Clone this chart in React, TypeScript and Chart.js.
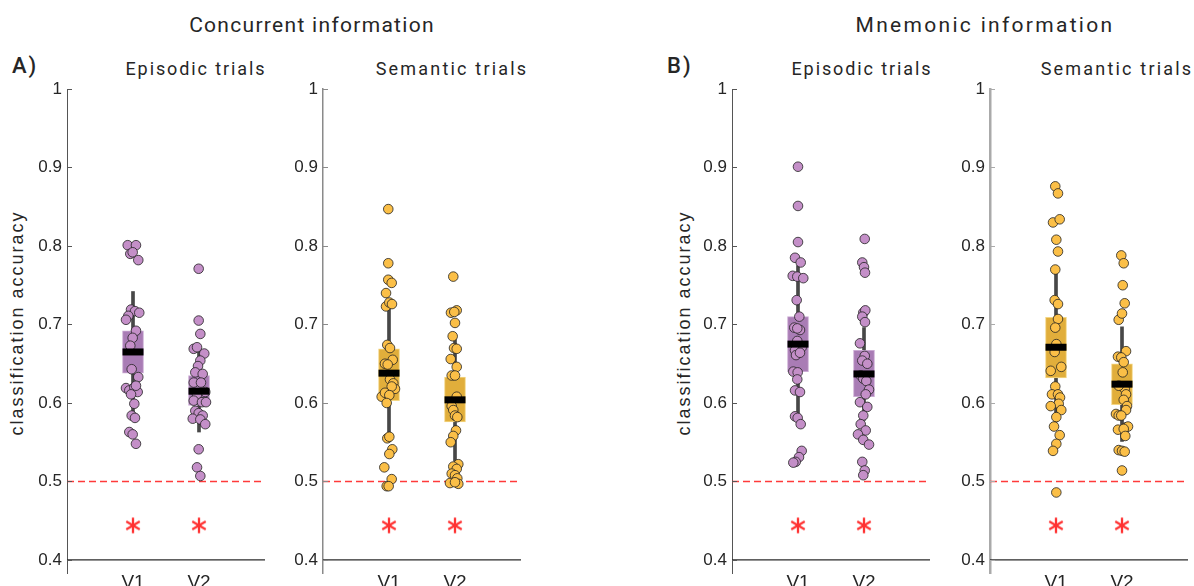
import React, { useEffect, useRef } from "react";
import { Chart, registerables } from "chart.js";

Chart.register(...registerables);

// ---------- shared axis data ----------
const categories = ["V1", "V2"];
const categoryPositions = [1, 2];
const yTicks = [0.4, 0.5, 0.6, 0.7, 0.8, 0.9, 1];
const yTickLabels = ["0.4", "0.5", "0.6", "0.7", "0.8", "0.9", "1"];
const chanceLevel = 0.5;
const axisFloor = 0.4;
const asteriskLevel = 0.444;

// ---------- A) Concurrent information, Episodic trials ----------
const conEpiV1 = [0.801, 0.801, 0.79, 0.792, 0.782, 0.719, 0.717, 0.715, 0.711, 0.706, 0.692, 0.683, 0.673, 0.643, 0.633, 0.619, 0.616, 0.62, 0.614, 0.611, 0.622, 0.599, 0.584, 0.581, 0.563, 0.56, 0.548];
const conEpiV1Jitter = [-0.08, 0.045, -0.041, -0.005, 0.08, -0.03, 0.03, 0.095, -0.071, -0.106, 0.045, -0.005, -0.041, -0.02, 0.08, -0.106, -0.056, 0.02, 0.071, -0.03, 0.045, 0.02, -0.02, 0.03, -0.056, -0.005, 0.045];
const conEpiV2 = [0.771, 0.705, 0.688, 0.669, 0.671, 0.663, 0.654, 0.647, 0.639, 0.637, 0.626, 0.626, 0.614, 0.611, 0.603, 0.601, 0.601, 0.59, 0.587, 0.584, 0.58, 0.579, 0.573, 0.541, 0.518, 0.507];
const conEpiV2Jitter = [-0.005, -0.005, 0.02, -0.08, -0.03, 0.08, 0.02, -0.015, -0.056, 0.056, -0.08, 0.03, 0.095, -0.03, -0.08, 0.045, 0.106, -0.056, -0.005, 0.056, -0.095, 0.02, 0.095, -0.005, -0.03, 0.02];
const conEpiMean = [0.665, 0.615];
const conEpiBoxLo = [0.638, 0.597];
const conEpiBoxHi = [0.692, 0.635];
const conEpiSdLo = [0.588, 0.563];
const conEpiSdHi = [0.742, 0.667];

// ---------- A) Concurrent information, Semantic trials ----------
const conSemV1 = [0.847, 0.778, 0.757, 0.753, 0.74, 0.723, 0.728, 0.726, 0.674, 0.67, 0.655, 0.65, 0.649, 0.63, 0.625, 0.618, 0.621, 0.608, 0.613, 0.61, 0.6, 0.555, 0.557, 0.541, 0.535, 0.518, 0.503, 0.494, 0.494];
const conSemV1Jitter = [-0.011, -0.011, -0.011, 0.041, -0.045, -0.045, 0.005, 0.045, -0.026, 0.015, 0.056, -0.061, -0.02, 0.015, 0.065, 0.091, 0.041, -0.111, -0.061, 0.005, -0.035, -0.026, 0.005, 0.05, 0.005, -0.071, 0.041, -0.035, -0.005];
const conSemV2 = [0.761, 0.715, 0.718, 0.716, 0.702, 0.685, 0.67, 0.669, 0.656, 0.646, 0.635, 0.635, 0.608, 0.596, 0.591, 0.584, 0.582, 0.565, 0.558, 0.55, 0.522, 0.519, 0.516, 0.51, 0.508, 0.504, 0.498, 0.497, 0.499];
const conSemV2Jitter = [-0.026, -0.061, 0.026, -0.011, 0, -0.035, -0.015, 0.026, -0.065, 0.026, -0.05, 0, 0.026, -0.05, -0.026, 0, 0.035, 0.015, -0.026, -0.065, 0.05, -0.026, 0.026, -0.05, 0, 0.035, -0.076, 0.05, 0];
const conSemMean = [0.638, 0.604];
const conSemBoxLo = [0.603, 0.576];
const conSemBoxHi = [0.669, 0.633];
const conSemSdLo = [0.556, 0.526];
const conSemSdHi = [0.72, 0.682];

// ---------- B) Mnemonic information, Episodic trials ----------
const mneEpiV1 = [0.901, 0.851, 0.805, 0.785, 0.779, 0.762, 0.761, 0.759, 0.731, 0.71, 0.696, 0.693, 0.695, 0.679, 0.671, 0.667, 0.661, 0.664, 0.64, 0.639, 0.63, 0.616, 0.614, 0.583, 0.581, 0.573, 0.539, 0.531, 0.525, 0.524];
const mneEpiV1Jitter = [0, 0, 0, -0.045, 0.041, -0.08, -0.011, 0.08, -0.02, 0.02, -0.056, 0.03, -0.011, -0.011, 0.056, -0.045, -0.03, 0.03, -0.071, -0.005, -0.011, -0.045, 0.03, -0.045, -0.005, 0.041, 0.056, 0.015, -0.035, -0.071];
const mneEpiV2 = [0.809, 0.779, 0.773, 0.766, 0.715, 0.718, 0.71, 0.703, 0.676, 0.66, 0.654, 0.65, 0.635, 0.631, 0.628, 0.617, 0.611, 0.601, 0.595, 0.584, 0.573, 0.565, 0.56, 0.553, 0.547, 0.525, 0.514, 0.508];
const mneEpiV2Jitter = [0.011, -0.026, 0, 0.015, -0.011, 0.02, -0.026, 0.015, -0.061, 0.011, -0.026, 0.05, -0.05, -0.011, 0.035, 0.076, 0.026, -0.061, 0.05, -0.011, -0.05, 0.026, -0.091, -0.011, 0.076, -0.026, 0.011, -0.011];
const mneEpiMean = [0.675, 0.637];
const mneEpiBoxLo = [0.64, 0.608];
const mneEpiBoxHi = [0.71, 0.667];
const mneEpiSdLo = [0.575, 0.578];
const mneEpiSdHi = [0.775, 0.696];

// ---------- B) Mnemonic information, Semantic trials ----------
const mneSemV1 = [0.876, 0.867, 0.83, 0.834, 0.808, 0.793, 0.77, 0.731, 0.726, 0.707, 0.696, 0.675, 0.665, 0.641, 0.646, 0.621, 0.611, 0.611, 0.607, 0.599, 0.591, 0.596, 0.582, 0.57, 0.559, 0.548, 0.539, 0.486];
const mneSemV1Jitter = [-0.011, 0.03, -0.045, 0.056, 0.005, 0.03, -0.011, -0.02, 0.03, 0.03, -0.011, 0.005, -0.02, -0.08, 0.08, -0.011, -0.061, 0.03, 0.061, 0.041, 0.08, -0.08, 0.005, -0.03, 0.056, 0.005, -0.045, 0.005];
const mneSemV2 = [0.788, 0.778, 0.75, 0.727, 0.706, 0.714, 0.666, 0.659, 0.658, 0.652, 0.639, 0.618, 0.611, 0.622, 0.604, 0.596, 0.591, 0.586, 0.584, 0.584, 0.566, 0.569, 0.57, 0.567, 0.558, 0.54, 0.539, 0.538, 0.514];
const mneSemV2Jitter = [-0.011, 0.026, 0.011, 0.041, -0.05, 0, 0.061, -0.061, -0.011, 0.026, 0.011, 0.041, 0.061, -0.05, 0.026, 0.076, 0.061, -0.091, -0.05, -0.011, -0.061, 0.061, 0.091, 0.026, 0.05, -0.05, 0, 0.041, 0];
const mneSemMean = [0.671, 0.624];
const mneSemBoxLo = [0.632, 0.598];
const mneSemBoxHi = [0.709, 0.65];
const mneSemSdLo = [0.576, 0.551];
const mneSemSdHi = [0.766, 0.697];

// ---------- styles ----------
const PURPLE = { point: "#c48fc8", box: "#a97cb5", edge: "#caa9d3" };
const ORANGE = { point: "#fbbf47", box: "#e1ae3b", edge: "#f3d684" };
const TICK_FONT = "'Liberation Sans', Arial, sans-serif";
const TITLE_FONT = "Roboto, 'Noto Sans', sans-serif";

type PanelSpec = {
  left: number;
  v1: number[];
  j1: number[];
  v2: number[];
  j2: number[];
  mean: number[];
  boxLo: number[];
  boxHi: number[];
  sdLo: number[];
  sdHi: number[];
  colors: { point: string; box: string; edge: string };
  axisColor: string;
  axisWidth: number;
};

const panels: PanelSpec[] = [
  { left: 7, v1: conEpiV1, j1: conEpiV1Jitter, v2: conEpiV2, j2: conEpiV2Jitter, mean: conEpiMean, boxLo: conEpiBoxLo, boxHi: conEpiBoxHi, sdLo: conEpiSdLo, sdHi: conEpiSdHi, colors: PURPLE, axisColor: "#555555", axisWidth: 1 },
  { left: 263, v1: conSemV1, j1: conSemV1Jitter, v2: conSemV2, j2: conSemV2Jitter, mean: conSemMean, boxLo: conSemBoxLo, boxHi: conSemBoxHi, sdLo: conSemSdLo, sdHi: conSemSdHi, colors: ORANGE, axisColor: "#8a8a8a", axisWidth: 1.5 },
  { left: 672, v1: mneEpiV1, j1: mneEpiV1Jitter, v2: mneEpiV2, j2: mneEpiV2Jitter, mean: mneEpiMean, boxLo: mneEpiBoxLo, boxHi: mneEpiBoxHi, sdLo: mneEpiSdLo, sdHi: mneEpiSdHi, colors: PURPLE, axisColor: "#555555", axisWidth: 1 },
  { left: 930, v1: mneSemV1, j1: mneSemV1Jitter, v2: mneSemV2, j2: mneSemV2Jitter, mean: mneSemMean, boxLo: mneSemBoxLo, boxHi: mneSemBoxHi, sdLo: mneSemSdLo, sdHi: mneSemSdHi, colors: ORANGE, axisColor: "#aaaaaa", axisWidth: 2.5 },
];

function makeAsterisk(): HTMLCanvasElement {
  const c = document.createElement("canvas");
  c.width = 20;
  c.height = 20;
  const ctx = c.getContext("2d")!;
  ctx.strokeStyle = "#ff3333";
  ctx.lineWidth = 2.3;
  const r = 7.8;
  for (const a of [90, 30, 150]) {
    const rad = (a * Math.PI) / 180;
    ctx.beginPath();
    ctx.moveTo(10 - r * Math.cos(rad), 10 - r * Math.sin(rad));
    ctx.lineTo(10 + r * Math.cos(rad), 10 + r * Math.sin(rad));
    ctx.stroke();
  }
  return c;
}

const inwardTicks = {
  id: "inwardTicks",
  afterDatasetsDraw(chart: any, _args: any, opts: any) {
    const y = chart.scales.y;
    const ctx = chart.ctx;
    const x0 = chart.chartArea.left;
    ctx.save();
    ctx.strokeStyle = opts.color || "#555";
    ctx.lineWidth = 1;
    for (const t of y.ticks) {
      const py = Math.round(y.getPixelForValue(t.value)) + 0.5;
      ctx.beginPath();
      ctx.moveTo(x0, py);
      ctx.lineTo(x0 + 5, py);
      ctx.stroke();
    }
    ctx.restore();
  },
};

function PanelChart({ spec }: { spec: PanelSpec }) {
  const ref = useRef<HTMLCanvasElement | null>(null);
  useEffect(() => {
    if (!ref.current) return;
    const star = makeAsterisk();
    const points = [
      ...spec.v1.map((y, i) => ({ x: categoryPositions[0] + spec.j1[i], y })),
      ...spec.v2.map((y, i) => ({ x: categoryPositions[1] + spec.j2[i], y })),
    ];
    const chart = new Chart(ref.current, {
      type: "scatter",
      data: {
        datasets: [
          {
            type: "scatter",
            data: categoryPositions.map((x, i) => ({ x, y: spec.mean[i] })),
            pointStyle: "line",
            pointRadius: 10.5,
            pointBorderWidth: 7,
            pointBorderColor: "#000",
            pointBackgroundColor: "#000",
            borderColor: "#000",
            order: 0,
          } as any,
          {
            type: "scatter",
            data: points,
            pointRadius: 4.8,
            pointBackgroundColor: spec.colors.point,
            pointBorderColor: "#222",
            pointBorderWidth: 0.8,
            order: 1,
          } as any,
          {
            type: "bar",
            data: categoryPositions.map((x, i) => ({ x, y: [spec.boxLo[i], spec.boxHi[i]] })),
            backgroundColor: spec.colors.box,
            borderColor: spec.colors.edge,
            borderWidth: 1,
            borderSkipped: false,
            grouped: false,
            barThickness: 21,
            maxBarThickness: 21,
            order: 2,
          } as any,
          {
            type: "bar",
            data: categoryPositions.map((x, i) => ({ x, y: [spec.sdLo[i], spec.sdHi[i]] })),
            backgroundColor: "#474747",
            borderWidth: 0,
            grouped: false,
            barThickness: 3,
            maxBarThickness: 3,
            order: 3,
          } as any,
          {
            type: "scatter",
            data: categoryPositions.map((x) => ({ x, y: asteriskLevel })),
            pointStyle: star,
            order: 4,
          } as any,
          {
            type: "line",
            data: [
              { x: 0, y: chanceLevel },
              { x: 3, y: chanceLevel },
            ],
            borderColor: "#ff3a3a",
            borderWidth: 1.5,
            borderDash: [7, 4],
            pointRadius: 0,
            order: 5,
          } as any,
          {
            type: "line",
            data: [
              { x: 0, y: axisFloor },
              { x: 3, y: axisFloor },
            ],
            borderColor: "#2b2b2b",
            borderWidth: 1.2,
            pointRadius: 0,
            order: 6,
          } as any,
        ],
      },
      options: {
        responsive: false,
        animation: false,
        devicePixelRatio: 1,
        events: [],
        layout: { autoPadding: false, padding: { top: 89, left: 0, right: 6, bottom: 0 } },
        plugins: {
          legend: { display: false },
          tooltip: { enabled: false },
          title: { display: false },
          inwardTicks: { color: spec.axisColor },
        } as any,
        scales: {
          x: {
            type: "linear",
            min: 0,
            max: 3,
            offset: false,
            grid: { display: false, drawTicks: false },
            border: { display: false },
            afterBuildTicks: (s: any) => {
              s.ticks = categoryPositions.map((v) => ({ value: v }));
            },
            afterFit: (s: any) => {
              s.height = 13;
              s.paddingLeft = 0;
              s.paddingRight = 0;
            },
            ticks: {
              padding: -2,
              color: "#262626",
              autoSkip: false,
              maxRotation: 0,
              font: { family: TICK_FONT, size: 19 },
              callback: (_v: any, i: number) => categories[i],
            },
          },
          y: {
            type: "linear",
            min: 0.3834,
            max: 1,
            grid: { display: false, drawTicks: false },
            border: { display: true, color: spec.axisColor, width: spec.axisWidth },
            afterBuildTicks: (s: any) => {
              s.ticks = yTicks.map((v) => ({ value: v }));
            },
            afterFit: (s: any) => {
              s.width = 60;
              s.paddingTop = 0;
              s.paddingBottom = 0;
            },
            ticks: {
              padding: 5,
              color: "#262626",
              autoSkip: false,
              font: { family: TICK_FONT, size: 17 },
              callback: (_v: any, i: number) => yTickLabels[i],
            },
          },
        },
      } as any,
      plugins: [inwardTicks as any],
    });
    return () => chart.destroy();
  }, [spec]);
  return (
    <canvas
      ref={ref}
      width={264}
      height={586}
      style={{ position: "absolute", left: spec.left, top: 0, width: 264, height: 586 }}
    />
  );
}

type Label = { text: string; x: number; y: number; size: number; ls: number; weight?: number; family?: string; rotate?: boolean; align?: "center" | "left" };

const labels: Label[] = [
  { text: "Concurrent information", x: 312, y: 25, size: 21, ls: 1.3 },
  { text: "Mnemonic information", x: 985, y: 25, size: 21, ls: 2.3 },
  { text: "A)", x: 12, y: 66, size: 22, ls: 2, weight: 500, align: "left" },
  { text: "B)", x: 667, y: 66, size: 22, ls: 2, weight: 500, align: "left" },
  { text: "Episodic trials", x: 196, y: 69, size: 18, ls: 1.9 },
  { text: "Semantic trials", x: 452, y: 69, size: 18, ls: 2.2 },
  { text: "Episodic trials", x: 862, y: 69, size: 18, ls: 1.9 },
  { text: "Semantic trials", x: 1117, y: 69, size: 18, ls: 2.2 },
  { text: "classification accuracy", x: 17, y: 323, size: 18, ls: 2, family: TICK_FONT, rotate: true },
  { text: "classification accuracy", x: 684, y: 323, size: 18, ls: 2, family: TICK_FONT, rotate: true },
];

export default function App() {
  return (
    <div
      style={{
        position: "absolute",
        left: 0,
        top: 0,
        width: 1194,
        height: 586,
        background: "#ffffff",
        overflow: "hidden",
      }}
    >
      {labels.map((l, i) => (
        <div
          key={i}
          style={{
            position: "absolute",
            left: l.x,
            top: l.y,
            fontFamily: l.family || TITLE_FONT,
            fontSize: l.size,
            fontWeight: l.weight || 400,
            letterSpacing: l.ls,
            color: "#262626",
            lineHeight: 1,
            whiteSpace: "nowrap",
            transform: l.rotate
              ? "translate(-50%, -50%) rotate(-90deg)"
              : l.align === "left"
              ? "translate(0, -50%)"
              : "translate(-50%, -50%)",
          }}
        >
          {l.text}
        </div>
      ))}
      {panels.map((p, i) => (
        <PanelChart key={i} spec={p} />
      ))}
    </div>
  );
}
